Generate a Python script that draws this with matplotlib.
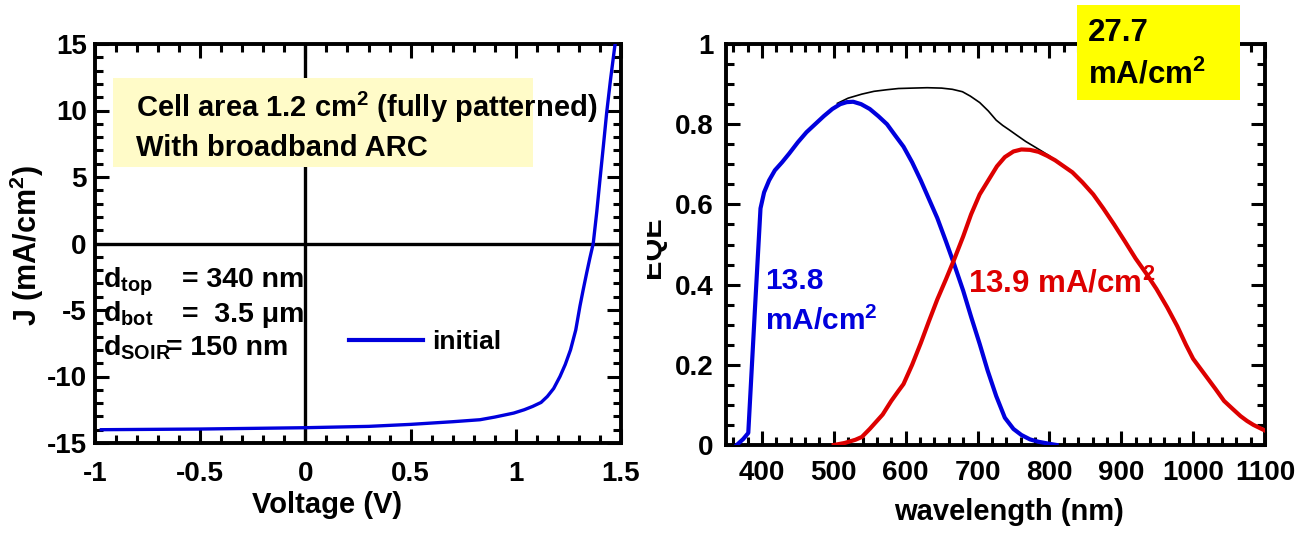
import matplotlib
matplotlib.use("Agg")
import matplotlib.pyplot as plt
from matplotlib.patches import Rectangle
from matplotlib.lines import Line2D

plt.rcParams['font.family'] = ['Liberation Sans', 'DejaVu Sans']
plt.rcParams['font.weight'] = 'bold'
plt.rcParams['mathtext.fontset'] = 'custom'
plt.rcParams['mathtext.rm'] = 'Liberation Sans:bold'
plt.rcParams['mathtext.it'] = 'Liberation Sans:bold'
plt.rcParams['mathtext.bf'] = 'Liberation Sans:bold'

# ---------------- data ----------------
voltage = [-0.97, -0.5, 0.0, 0.3, 0.5, 0.7, 0.83, 0.9, 0.99, 1.04, 1.08, 1.12,
           1.15, 1.18, 1.21, 1.235, 1.26, 1.285, 1.305, 1.32, 1.337, 1.352,
           1.368, 1.385, 1.40, 1.416, 1.432, 1.45, 1.471, 1.48]
current = [-14.0, -13.95, -13.85, -13.75, -13.6, -13.4, -13.25, -13.05, -12.75,
           -12.5, -12.25, -11.95, -11.5, -10.9, -10.0, -9.1, -8.0, -6.5, -4.7,
           -3.5, -2.2, -1.1, 0.0, 2.4, 4.8, 7.3, 9.85, 12.3, 14.9, 15.5]

wl_top = [365, 374, 381, 390, 398, 403, 410, 418, 428, 438, 450,
          462, 474, 486, 498, 509, 518, 527, 538, 550, 562, 574, 585, 597, 609,
          621, 632, 644, 656, 668, 680, 691, 703, 714, 726, 738, 750, 761, 773,
          785, 800, 810]
eqe_top = [0.0, 0.015, 0.03, 0.33, 0.59, 0.63, 0.66, 0.685,
           0.705, 0.727, 0.755, 0.78, 0.80, 0.82, 0.838, 0.85, 0.855, 0.856,
           0.85, 0.838, 0.82, 0.80, 0.773, 0.744, 0.705, 0.66, 0.615, 0.566,
           0.508, 0.448, 0.385, 0.32, 0.252, 0.186, 0.122, 0.068, 0.04, 0.025,
           0.014, 0.008, 0.003, 0.0]

wl_bot = [500, 515, 530, 539, 550, 560, 568, 580, 590, 597, 609, 621, 632, 644,
          656, 668, 680, 691, 703, 715, 727, 738, 750, 761, 773, 785, 797, 808,
          820, 832, 846, 861, 875, 890, 905, 920, 935, 949, 964, 978, 990, 1000,
          1019, 1031, 1043, 1055, 1066, 1075, 1084, 1092, 1100]
eqe_bot = [0.0, 0.005, 0.013, 0.02, 0.04, 0.06, 0.076, 0.11, 0.135, 0.152, 0.2,
           0.254, 0.307, 0.363, 0.413, 0.465, 0.52, 0.575, 0.625, 0.66, 0.695,
           0.718, 0.732, 0.737, 0.736, 0.731, 0.721, 0.71, 0.695, 0.68, 0.655,
           0.625, 0.59, 0.55, 0.508, 0.465, 0.427, 0.389, 0.343, 0.296, 0.25,
           0.215, 0.169, 0.14, 0.11, 0.09, 0.072, 0.06, 0.05, 0.043, 0.036]

wl_sum = [505, 520, 539, 556, 574, 590, 609, 630, 650, 665, 679, 690, 703, 715,
          726, 735, 744, 755, 767, 780, 791, 800, 808]
eqe_sum = [0.852, 0.865, 0.875, 0.882, 0.886, 0.889, 0.89, 0.891, 0.89, 0.887,
           0.881, 0.87, 0.854, 0.833, 0.81, 0.797, 0.786, 0.772, 0.757, 0.743,
           0.731, 0.721, 0.71]

jv_xticks = [-1, -0.5, 0, 0.5, 1, 1.5]
jv_xlabels = ['-1', '-0.5', '0', '0.5', '1', '1.5']
jv_yticks = [-15, -10, -5, 0, 5, 10, 15]
jv_ylabels = ['-15', '-10', '-5', '0', '5', '10', '15']
eqe_xticks = [400, 500, 600, 700, 800, 900, 1000, 1100]
eqe_xlabels = ['400', '500', '600', '700', '800', '900', '1000', '1100']
eqe_yticks = [0, 0.2, 0.4, 0.6, 0.8, 1.0]
eqe_ylabels = ['0', '0.2', '0.4', '0.6', '0.8', '1']

# ---------------- figure ----------------
W, H = 1311, 533
fig = plt.figure(figsize=(W / 100, H / 100), dpi=100)


def box(l, t, r, b):
    return [l / W, 1 - b / H, (r - l) / W, (b - t) / H]


def fx(x):
    return x / W


def fy(y):
    return 1 - y / H


BLUE = '#0000DD'
RED = '#DD0000'


def style(ax, xpad, ypad):
    for s in ax.spines.values():
        s.set_linewidth(2.8)
    ax.tick_params(which='both', direction='in', top=True, right=True,
                   width=2.2, labelsize=20)
    ax.tick_params(which='major', length=10)
    ax.tick_params(which='minor', length=5.5)
    ax.tick_params(axis='x', pad=xpad)
    ax.tick_params(axis='y', pad=ypad)
    for lab in ax.get_xticklabels() + ax.get_yticklabels():
        lab.set_fontweight('bold')


# ---- left: J-V ----
ax1 = fig.add_axes(box(95, 44, 621, 443))
ax1.plot(voltage, current, color=BLUE, lw=2.4, zorder=3)
ax1.axhline(0, color='black', lw=2.4, zorder=2)
ax1.axvline(0, color='black', lw=2.4, zorder=2)
ax1.set_xlim(-1, 1.5)
ax1.set_ylim(-15, 15)
ax1.set_xticks(jv_xticks)
ax1.set_xticklabels(jv_xlabels)
ax1.set_yticks(jv_yticks)
ax1.set_yticklabels(jv_ylabels)
ax1.set_xticks([v / 10 for v in range(-10, 16)], minor=True)
ax1.set_yticks(list(range(-15, 16)), minor=True)
style(ax1, 13, 6)

fig.text(fx(327), fy(505), 'Voltage (V)', ha='center', va='center',
         fontsize=21, fontweight='bold')
fig.text(fx(27), fy(246), 'J (mA/cm$^{2}$)', ha='center', va='center',
         rotation=90, fontsize=22, fontweight='bold')

fig.patches.append(Rectangle((fx(113), fy(167)), (533 - 113) / W, (167 - 78) / H,
                             transform=fig.transFigure, facecolor='#FFFBC8',
                             edgecolor='none', zorder=1))
fig.text(fx(136), fy(107), 'Cell area 1.2 cm$^{2}$ (fully patterned)',
         ha='left', va='center', fontsize=21, fontweight='bold', zorder=5)
fig.text(fx(136), fy(148), 'With broadband ARC',
         ha='left', va='center', fontsize=21, fontweight='bold', zorder=5)

fig.text(fx(103), fy(287), 'd$_{top}$', ha='left', va='baseline', fontsize=20.5, fontweight='bold', zorder=5)
fig.text(fx(182), fy(287), '= 340 nm', ha='left', va='baseline', fontsize=20.5, fontweight='bold', zorder=5)
fig.text(fx(103), fy(322), 'd$_{bot}$', ha='left', va='baseline', fontsize=20.5, fontweight='bold', zorder=5)
fig.text(fx(182), fy(322), '=  3.5 \u03bcm', ha='left', va='baseline', fontsize=20.5, fontweight='bold', zorder=5)
fig.text(fx(103), fy(355), 'd$_{SOIR}$', ha='left', va='baseline', fontsize=20.5, fontweight='bold', zorder=5)
fig.text(fx(166), fy(355), '= 150 nm', ha='left', va='baseline', fontsize=20.5, fontweight='bold', zorder=5)

leg = ax1.legend([Line2D([], [], color=BLUE, lw=3)], ['initial'],
                 loc='center left', bbox_to_anchor=(fx(349), fy(342)),
                 bbox_transform=fig.transFigure, frameon=False,
                 borderpad=0, borderaxespad=0, handlelength=2.8,
                 handletextpad=0.35, prop={'size': 19, 'weight': 'bold'})

# ---- right: EQE ----
ax2 = fig.add_axes(box(726, 44, 1265, 445))
ax2.plot(wl_sum, eqe_sum, color='black', lw=1.2, zorder=2)
ax2.plot(wl_top, eqe_top, color=BLUE, lw=3, zorder=3)
ax2.plot(wl_bot, eqe_bot, color=RED, lw=3, zorder=3)
ax2.set_xlim(350, 1100)
ax2.set_ylim(0, 1)
ax2.set_xticks(eqe_xticks)
ax2.set_xticklabels(eqe_xlabels)
ax2.set_yticks(eqe_yticks)
ax2.set_yticklabels(eqe_ylabels)
ax2.set_xticks(list(range(360, 1101, 20)), minor=True)
ax2.set_yticks([i * 0.05 for i in range(21)], minor=True)
style(ax2, 11, 9)

fig.text(fx(1009), fy(512), 'wavelength (nm)', ha='center', va='center',
         fontsize=21, fontweight='bold')
fig.text(fx(652), fy(247), 'EQE', ha='center', va='center', rotation=90,
         fontsize=21, fontweight='bold', zorder=5)
fig.patches.append(Rectangle((fx(628), fy(290)), (647 - 628) / W, (290 - 205) / H,
                             transform=fig.transFigure, facecolor='white',
                             edgecolor='none', zorder=6))

fig.text(fx(765), fy(281), '13.8', ha='left', va='center', color=BLUE,
         fontsize=21.5, fontweight='bold', zorder=5)
fig.text(fx(765), fy(321), 'mA/cm$^{2}$', ha='left', va='center', color=BLUE,
         fontsize=21.5, fontweight='bold', zorder=5)
fig.text(fx(968), fy(284), '13.9 mA/cm$^{2}$', ha='left', va='center', color=RED,
         fontsize=22.5, fontweight='bold', zorder=5)

fig.patches.append(Rectangle((fx(1077), fy(100)), (1240 - 1077) / W, (100 - 5) / H,
                             transform=fig.transFigure, facecolor='#FFFF00',
                             edgecolor='none', zorder=6))
fig.text(fx(1088), fy(33), '27.7', ha='left', va='center',
         fontsize=22.5, fontweight='bold', zorder=7)
fig.text(fx(1088), fy(75), 'mA/cm$^{2}$', ha='left', va='center',
         fontsize=22.5, fontweight='bold', zorder=7)

fig.savefig('out.png', dpi=100)
